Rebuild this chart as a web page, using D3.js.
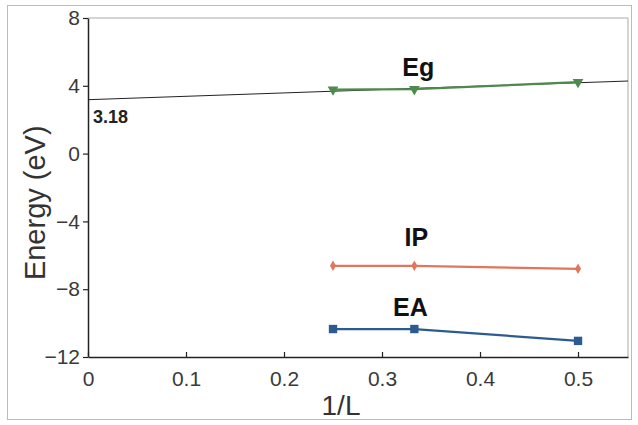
<!DOCTYPE html>
<html>
<head>
<meta charset="utf-8">
<script src="https://cdn.jsdelivr.net/npm/d3@7"></script>
<style>
  body { margin: 0; background: #fff; }
  svg { display: block; }
</style>
</head>
<body>
<div id="chart"></div>
<script>
// values
const invL = [0.25, 0.333, 0.5];
const eg = [3.78, 3.8, 4.22];
const ip = [-6.62, -6.62, -6.8];
const ea = [-10.35, -10.35, -11.05];
const fitIntercept = 3.18;
const fitSlope = 2.0;
const xTicks = [0, 0.1, 0.2, 0.3, 0.4, 0.5];
const yTicks = [-12, -8, -4, 0, 4, 8];

const width = 638, height = 425;
const margin = { top: 18, right: 10, bottom: 68, left: 88 };

const svg = d3.select("#chart").append("svg")
    .attr("width", width)
    .attr("height", height)
    .style("font-family", "Arial, 'Liberation Sans', sans-serif");

// outer frame
svg.append("rect")
    .attr("x", 7.5).attr("y", 5.5)
    .attr("width", 624).attr("height", 414)
    .attr("fill", "none").attr("stroke", "#bbb");

const x = d3.scaleLinear().domain([0, 0.551]).range([margin.left, width - margin.right]);
const y = d3.scaleLinear().domain([-12, 8]).range([height - margin.bottom, margin.top]);

// plot box (top/right light)
svg.append("path")
    .attr("d", `M${x(0)},${y(8)}H${x(0.551)}V${y(-12)}`)
    .attr("fill", "none").attr("stroke", "#aaa");

const xAxis = svg.append("g")
    .attr("transform", `translate(0,${y(-12)})`)
    .call(d3.axisBottom(x).tickValues(xTicks).tickFormat(d3.format("")).tickSizeInner(-5).tickSizeOuter(0).tickPadding(14));
const yAxis = svg.append("g")
    .attr("transform", `translate(${x(0)},0)`)
    .call(d3.axisLeft(y).tickValues(yTicks).tickSizeInner(5).tickSizeOuter(0).tickPadding(3));

[xAxis, yAxis].forEach(g => {
    g.select(".domain").attr("stroke", "#222").attr("stroke-width", 1.5);
    g.selectAll(".tick line").attr("stroke", "#222").attr("stroke-width", 1.2);
    g.selectAll("text").attr("fill", "#3a3a3a").style("font-size", "21px");
});
xAxis.selectAll("text").attr("dy", "0.71em");

svg.append("text")
    .attr("x", 341).attr("y", 415)
    .attr("text-anchor", "middle")
    .attr("fill", "#333").style("font-size", "28px")
    .text("1/L");

svg.append("text")
    .attr("transform", `translate(45,${y(-2.9)}) rotate(-90)`)
    .attr("text-anchor", "middle")
    .attr("fill", "#333").style("font-size", "29px")
    .text("Energy (eV)");

// linear fit for Eg
svg.append("line")
    .attr("x1", x(0)).attr("y1", y(fitIntercept))
    .attr("x2", x(0.551)).attr("y2", y(fitIntercept + fitSlope * 0.551))
    .attr("stroke", "#222").attr("stroke-width", 1);

const line = d3.line().x(d => x(d[0])).y(d => y(d[1]));

const series = [
    { name: "Eg", values: eg, color: "#4e8a4e", symbol: d3.symbolTriangle, rot: 180, size: 50 },
    { name: "IP", values: ip, color: "#e2765a", symbol: d3.symbolDiamond, rot: 0, size: 32 },
    { name: "EA", values: ea, color: "#2c5b92", symbol: d3.symbolSquare, rot: 0, size: 70 }
];

series.forEach(s => {
    const pts = invL.map((v, i) => [v, s.values[i]]);
    svg.append("path")
        .attr("d", line(pts))
        .attr("fill", "none")
        .attr("stroke", s.color)
        .attr("stroke-width", 2.2);
    svg.selectAll(null)
        .data(pts)
        .join("path")
        .attr("d", d3.symbol(s.symbol, s.size))
        .attr("transform", d => `translate(${x(d[0])},${y(d[1])}) rotate(${s.rot})`)
        .attr("fill", s.color);
});

// series labels
const labels = [
    { text: "Eg", at: [0.337, 4.6] },
    { text: "IP", at: [0.335, -5.45] },
    { text: "EA", at: [0.329, -9.6] }
];
svg.selectAll(null)
    .data(labels)
    .join("text")
    .attr("x", d => x(d.at[0]))
    .attr("y", d => y(d.at[1]))
    .attr("text-anchor", "middle")
    .attr("fill", "#111")
    .style("font-size", "25px")
    .style("font-weight", "900")
    .text(d => d.text);

svg.append("text")
    .attr("x", x(0) + 5).attr("y", y(fitIntercept) + 23)
    .attr("fill", "#222")
    .style("font-size", "18px")
    .style("font-weight", "bold")
    .text(fitIntercept.toFixed(2));
</script>
</body>
</html>
